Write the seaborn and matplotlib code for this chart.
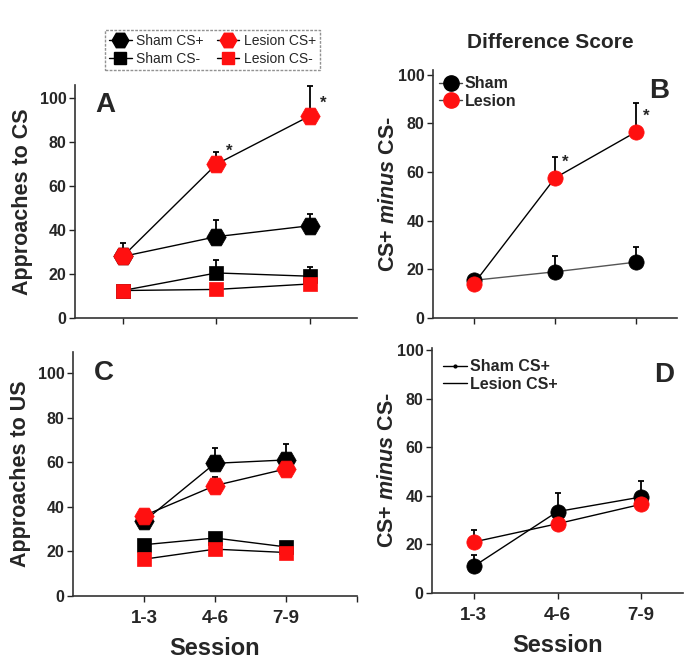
import numpy as np
import pandas as pd
import matplotlib
matplotlib.use("Agg")
import matplotlib.pyplot as plt
from matplotlib.lines import Line2D
import seaborn as sns

# ---------------- data ----------------
sessions = ["1-3", "4-6", "7-9"]
yticks = [0, 20, 40, 60, 80, 100]

# Panel A: approaches to CS
a_sham_cs_plus = [28, 37, 42]
a_sham_cs_plus_err = [0, 7.5, 5.5]
a_lesion_cs_plus = [28, 70, 92]
a_lesion_cs_plus_err = [6, 5.5, 13.5]
a_sham_cs_minus = [12.5, 20.5, 19]
a_sham_cs_minus_err = [0, 6, 4]
a_lesion_cs_minus = [12.5, 13, 15.5]
a_lesion_cs_minus_err = [0, 0, 0]

# Panel B: difference score CS
b_sham = [15.5, 19, 23]
b_sham_err = [0, 6.5, 6]
b_lesion = [14, 57.6, 76.6]
b_lesion_err = [0, 8.7, 12]

# Panel C: approaches to US
c_sham_cs_plus = [33.5, 59.5, 61]
c_sham_cs_plus_err = [0, 7, 7]
c_lesion_cs_plus = [36, 49.5, 57]
c_lesion_cs_plus_err = [0, 4, 0]
c_sham_cs_minus = [23, 26, 22]
c_sham_cs_minus_err = [0, 0, 1]
c_lesion_cs_minus = [16.5, 21, 19.5]
c_lesion_cs_minus_err = [0, 0, 0]

# Panel D: difference score US
d_sham = [11, 33.5, 39.5]
d_sham_err = [4.5, 7.5, 6.5]
d_lesion = [21, 28.5, 36.5]
d_lesion_err = [5, 0, 0]

legend_labels = ["Sham CS+", "Sham CS-", "Lesion CS+", "Lesion CS-"]

# ---------------- style ----------------
sns.set_style("ticks")
plt.rcParams["font.family"] = ["Liberation Sans", "DejaVu Sans"]
plt.rcParams["font.weight"] = "bold"
plt.rcParams["mathtext.fontset"] = "custom"
plt.rcParams["mathtext.it"] = "Liberation Sans:italic:bold"
plt.rcParams["mathtext.rm"] = "Liberation Sans:bold"
plt.rcParams["mathtext.bf"] = "Liberation Sans:bold"

RED = "#ff1010"
BLACK = "black"
W, H = 696, 663

fig = plt.figure(figsize=(6.96, 6.63), dpi=100)


def px_axes(left, right, bottom, top):
    return fig.add_axes([left / W, 1 - bottom / H, (right - left) / W, (bottom - top) / H])


x = np.arange(len(sessions))


def series(ax, vals, errs, color, marker, ms, lc="black"):
    ax.errorbar(x, vals, yerr=[np.zeros(len(vals)), errs], fmt="none",
                ecolor="black", elinewidth=1.3, capsize=2.2, capthick=1.3, zorder=2)
    sns.lineplot(x=x, y=vals, ax=ax, color=lc, linewidth=1.0, marker=marker,
                 markersize=ms, markerfacecolor=color, markeredgecolor=color,
                 markeredgewidth=0.5, legend=False, zorder=3)


def style_axes(ax, ymax, xlim, show_xlabels):
    sns.despine(ax=ax)
    ax.set_ylim(0, ymax)
    ax.set_xlim(*xlim)
    ax.set_yticks(yticks)
    ax.set_xticks(x)
    if show_xlabels:
        ax.set_xticklabels(sessions, fontsize=13.5, fontweight="bold")
    else:
        ax.set_xticklabels([])
    for lab in ax.get_yticklabels():
        lab.set_fontsize(11.5)
        lab.set_fontweight("bold")
    ax.tick_params(axis="y", direction="out", length=4, width=1, color="#222", pad=2)
    ax.tick_params(axis="x", direction="out", length=4, width=1, color="#222", pad=6)
    for s in ("left", "bottom"):
        ax.spines[s].set_linewidth(1.2)
        ax.spines[s].set_color("#333")
    ax.set_xlabel("")
    ax.set_ylabel("")


# ---------------- panel A ----------------
axA = px_axes(75, 357, 318, 85)
series(axA, a_sham_cs_plus, a_sham_cs_plus_err, BLACK, "H", 14)
series(axA, a_sham_cs_minus, a_sham_cs_minus_err, BLACK, "s", 9.5)
series(axA, a_lesion_cs_plus, a_lesion_cs_plus_err, RED, "H", 14)
series(axA, a_lesion_cs_minus, a_lesion_cs_minus_err, RED, "s", 9.5)
style_axes(axA, 106, (-0.51, 2.5), False)
axA.set_ylabel("Approaches to CS", fontsize=15.5, fontweight="bold", labelpad=5)
axA.text(0.106, 0.914, "A", transform=axA.transAxes, fontsize=20, fontweight="bold",
         ha="center", va="center")
for i in (1, 2):
    axA.annotate("*", xy=(x[i], a_lesion_cs_plus[i]), xytext=(7, 9),
                 textcoords="offset points", fontsize=12, fontweight="bold",
                 ha="left", va="center")

# ---------------- panel B ----------------
axB = px_axes(433, 677, 318, 70)
series(axB, b_sham, b_sham_err, BLACK, "o", 11, lc="#555")
series(axB, b_lesion, b_lesion_err, RED, "o", 11)
style_axes(axB, 102, (-0.5, 2.5), False)
axB.set_ylabel(r"CS+ $\mathit{minus}$ CS-", fontsize=15.5, fontweight="bold", labelpad=-1)
axB.text(0.926, 0.915, "B", transform=axB.transAxes, fontsize=20, fontweight="bold",
         ha="center", va="center")
for i in (1, 2):
    axB.annotate("*", xy=(x[i], b_lesion[i]), xytext=(5, 11),
                 textcoords="offset points", fontsize=12, fontweight="bold",
                 ha="left", va="center")
hB = [Line2D([], [], color="#444", lw=1, marker="o", ms=11, mfc=BLACK, mec=BLACK),
      Line2D([], [], color="#444", lw=1, marker="o", ms=11, mfc=RED, mec=RED)]
legB = axB.legend(hB, ["Sham", "Lesion"], loc="upper left", bbox_to_anchor=(0.0, 1.0),
                  frameon=False, prop={"size": 11.5, "weight": "bold"}, handlelength=1.4,
                  handletextpad=0.2, labelspacing=0.15, borderaxespad=0.2, borderpad=0.2)

# ---------------- panel C ----------------
axC = px_axes(73, 357, 596, 352)
series(axC, c_sham_cs_plus, c_sham_cs_plus_err, BLACK, "H", 14)
series(axC, c_sham_cs_minus, c_sham_cs_minus_err, BLACK, "s", 9.5)
series(axC, c_lesion_cs_plus, c_lesion_cs_plus_err, RED, "H", 14)
series(axC, c_lesion_cs_minus, c_lesion_cs_minus_err, RED, "s", 9.5)
style_axes(axC, 109.4, (-1.0, 3.0), True)
axC.set_xticks([3], minor=True)
axC.tick_params(axis="x", which="minor", direction="out", length=4, width=1, color="#222")
axC.set_ylabel("Approaches to US", fontsize=15.5, fontweight="bold", labelpad=5)
axC.set_xlabel("Session", fontsize=17, fontweight="bold", labelpad=7)
axC.text(0.109, 0.914, "C", transform=axC.transAxes, fontsize=20, fontweight="bold",
         ha="center", va="center")

# ---------------- panel D ----------------
axD = px_axes(432, 683, 593, 348)
series(axD, d_sham, d_sham_err, BLACK, "o", 11)
series(axD, d_lesion, d_lesion_err, RED, "o", 11)
style_axes(axD, 100.8, (-0.5, 2.5), True)
axD.set_ylabel(r"CS+ $\mathit{minus}$ CS-", fontsize=15.5, fontweight="bold", labelpad=-1)
axD.set_xlabel("Session", fontsize=17, fontweight="bold", labelpad=7)
axD.text(0.924, 0.89, "D", transform=axD.transAxes, fontsize=20, fontweight="bold",
         ha="center", va="center")
hD = [Line2D([], [], color=BLACK, lw=1, marker=".", ms=4),
      Line2D([], [], color=BLACK, lw=1)]
axD.legend(hD, ["Sham CS+", "Lesion CS+"], loc="upper left", bbox_to_anchor=(0.0, 1.0),
           frameon=False, prop={"size": 11.5, "weight": "bold"}, handlelength=1.5,
           handletextpad=0.15, labelspacing=0.15, borderaxespad=0.2, borderpad=0.5)

# ---------------- figure legend & title ----------------
hTop = [Line2D([], [], color=BLACK, lw=1, marker="H", ms=12, mfc=BLACK, mec=BLACK),
        Line2D([], [], color=BLACK, lw=1, marker="s", ms=8.5, mfc=BLACK, mec=BLACK),
        Line2D([], [], color=BLACK, lw=1, marker="H", ms=12, mfc=RED, mec=RED),
        Line2D([], [], color=BLACK, lw=1, marker="s", ms=8.5, mfc=RED, mec=RED)]
legTop = fig.legend(hTop, legend_labels, ncol=2, loc="center",
                    bbox_to_anchor=(212.5 / W, 1 - 50 / H), frameon=True, fancybox=False,
                    edgecolor="#777", prop={"size": 10, "weight": "normal"},
                    handlelength=1.6, handletextpad=0.3, columnspacing=1.0,
                    borderpad=0.3, labelspacing=0.25)
legTop.get_frame().set_linestyle((0, (2, 1)))
legTop.get_frame().set_linewidth(1.0)

fig.text(550 / W, 1 - 42 / H, "Difference Score", fontsize=15, fontweight="bold",
         ha="center", va="center")

fig.savefig("out.png", dpi=100)
